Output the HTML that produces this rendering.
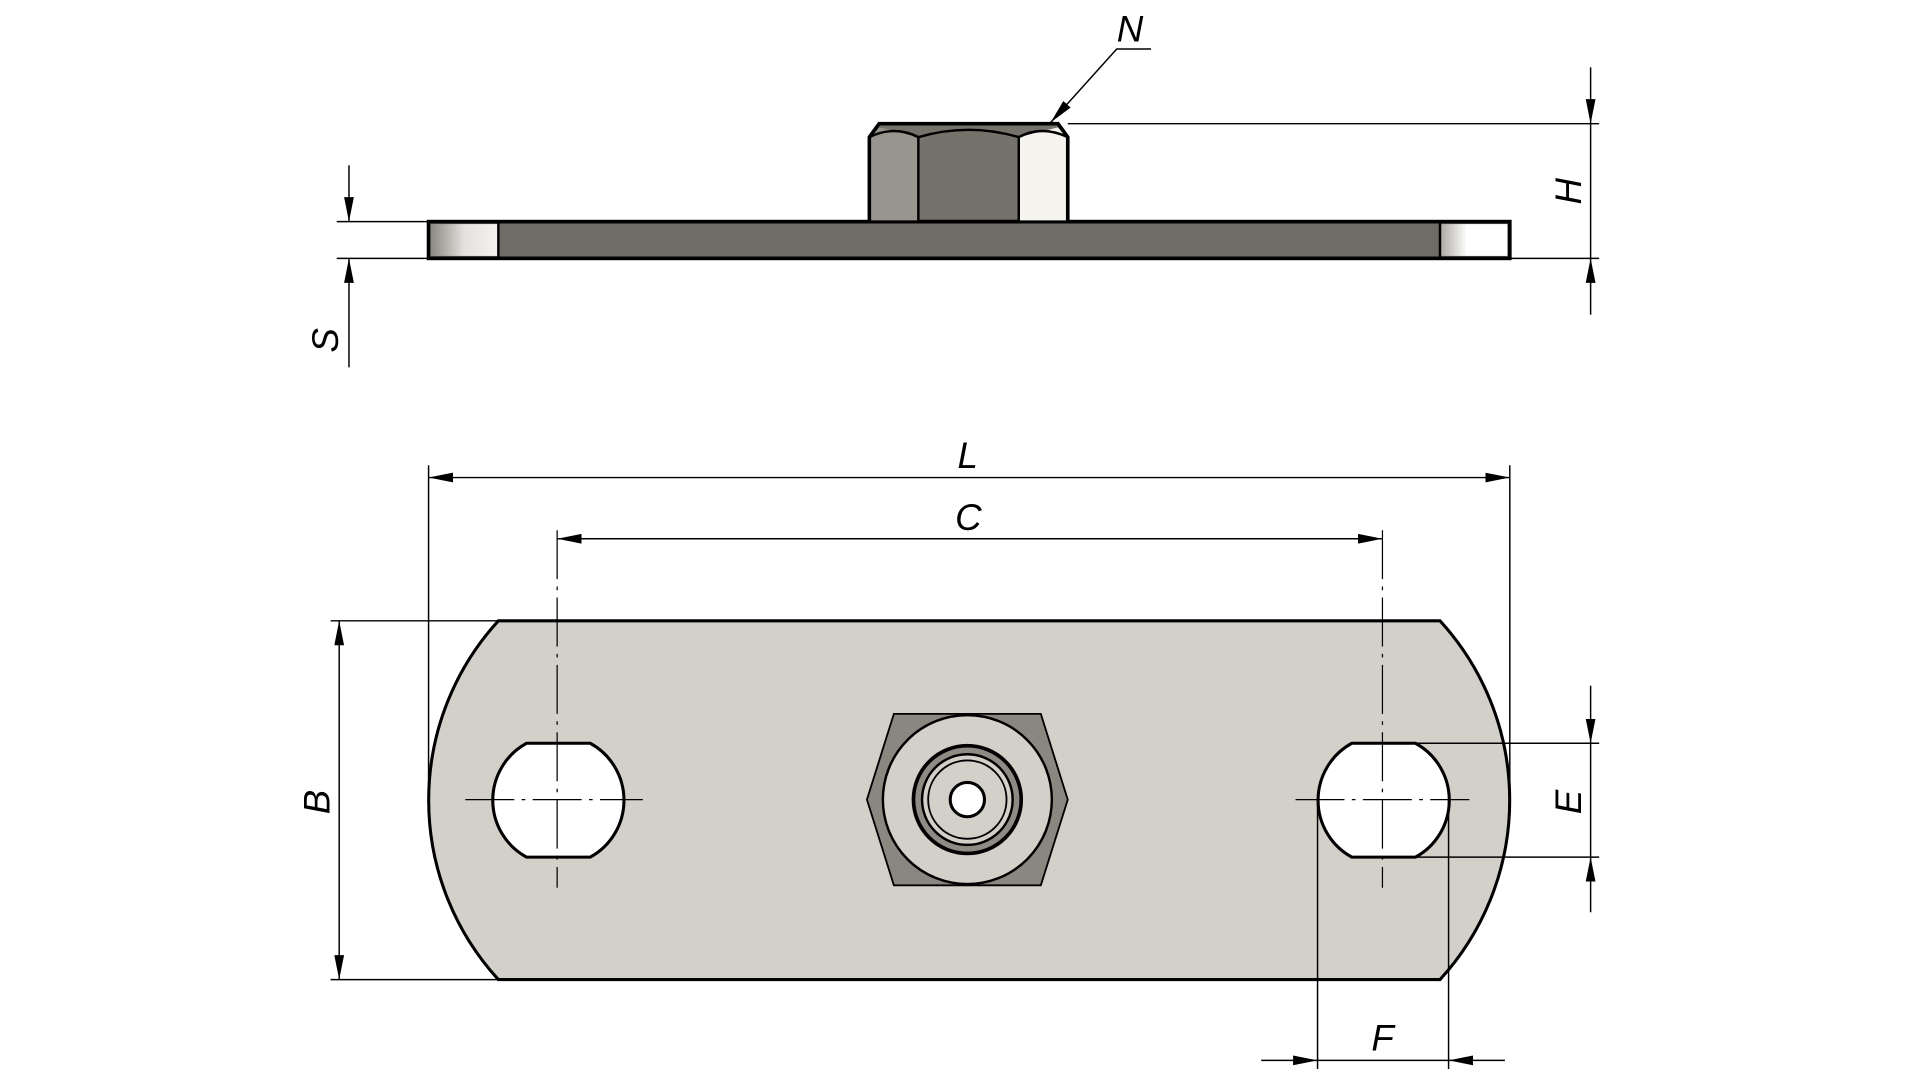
<!DOCTYPE html>
<html><head><meta charset="utf-8"><style>html,body{margin:0;padding:0;background:#fff;}svg{display:block}</style></head>
<body>
<svg width="1920" height="1080" viewBox="0 0 1568 882" preserveAspectRatio="none" xmlns="http://www.w3.org/2000/svg">
<defs>
<marker id="a" viewBox="0 0 20 8" refX="20" refY="4" markerWidth="20" markerHeight="8" markerUnits="userSpaceOnUse" orient="auto-start-reverse"><path d="M0,0 L20,4 L0,8 z" fill="#000"/></marker>
<linearGradient id="gl" x1="0" x2="1"><stop offset="0" stop-color="#8a8680"/><stop offset="0.5" stop-color="#e4e2de"/><stop offset="1" stop-color="#f4f2ee"/></linearGradient>
<linearGradient id="gr" x1="0" x2="1"><stop offset="0" stop-color="#aaa6a0"/><stop offset="0.4" stop-color="#fff"/><stop offset="1" stop-color="#fff"/></linearGradient>
</defs>
<g font-family="Liberation Sans, sans-serif" font-style="italic" font-size="30" fill="#000">
<!-- side view -->
<rect x="350" y="181" width="883" height="30" fill="#6f6b65" stroke="#000" stroke-width="3"/>
<rect x="351.5" y="183" width="55" height="26" fill="url(#gl)"/>
<rect x="1176" y="183" width="55" height="26" fill="url(#gr)"/>
<line x1="407" y1="181" x2="407" y2="211" stroke="#000" stroke-width="2"/>
<line x1="1176" y1="181" x2="1176" y2="211" stroke="#000" stroke-width="2"/>
<path d="M710,181 V112 L718,101 H864 L872,112 V181 Z" fill="#75716b" stroke="#000" stroke-width="3"/>
<path d="M711.5,112 L718,104 L750,112 V180 H711.5 Z" fill="#98948e"/>
<path d="M832,112 L864,104 L870.5,112 V180 H832 Z" fill="#f6f4ee"/>
<path d="M710,112 Q730,102 750,112 Q791,100 832,112 Q851,102 872,112" fill="none" stroke="#000" stroke-width="2"/>
<line x1="750" y1="112" x2="750" y2="181" stroke="#000" stroke-width="2"/>
<line x1="832" y1="112" x2="832" y2="181" stroke="#000" stroke-width="2"/>
<!-- N leader -->
<polyline points="940,40 912,40 858,100" fill="none" stroke="#000" stroke-width="1.2" marker-end="url(#a)"/>
<text x="912" y="34">N</text>
<!-- H -->
<line x1="872" y1="101" x2="1306" y2="101" stroke="#000" stroke-width="1.2"/>
<line x1="1233" y1="211" x2="1306" y2="211" stroke="#000" stroke-width="1.2"/>
<line x1="1299" y1="55" x2="1299" y2="101" stroke="#000" stroke-width="1.2" marker-end="url(#a)"/>
<line x1="1299" y1="257" x2="1299" y2="211" stroke="#000" stroke-width="1.2" marker-end="url(#a)"/>
<line x1="1299" y1="101" x2="1299" y2="211" stroke="#000" stroke-width="1.2"/>
<text transform="translate(1291,167) rotate(-90)">H</text>
<!-- S -->
<line x1="275" y1="181" x2="350" y2="181" stroke="#000" stroke-width="1.2"/>
<line x1="275" y1="211" x2="350" y2="211" stroke="#000" stroke-width="1.2"/>
<line x1="285" y1="135" x2="285" y2="181" stroke="#000" stroke-width="1.2" marker-end="url(#a)"/>
<line x1="285" y1="300" x2="285" y2="211" stroke="#000" stroke-width="1.2" marker-end="url(#a)"/>
<text transform="translate(276,288) rotate(-90)">S</text>
<!-- top view plate -->
<path d="M407,507 H1176 A217,217 0 0 1 1176,800 H407 A217,217 0 0 1 407,507 Z" fill="#d3cfc9" stroke="#000" stroke-width="2.5"/>
<path d="M430,607 H482 A53,53 0 0 1 482,700 H430 A53,53 0 0 1 430,607 Z" fill="#fff" stroke="#000" stroke-width="2.5"/>
<path d="M1104,607 H1156 A53,53 0 0 1 1156,700 H1104 A53,53 0 0 1 1104,607 Z" fill="#fff" stroke="#000" stroke-width="2.5"/>
<!-- nut top -->
<path d="M730,583 H850 L872,653 L850,723 H730 L708,653 Z" fill="#8a8680" stroke="#000" stroke-width="1.5"/>
<circle cx="790" cy="653" r="69" fill="#d3cfc9" stroke="#000" stroke-width="2"/>
<circle cx="790" cy="653" r="44" fill="#8e8a84" stroke="#000" stroke-width="3"/>
<circle cx="790" cy="653" r="37" fill="#d3cfc9" stroke="#000" stroke-width="2"/>
<circle cx="790" cy="653" r="32" fill="none" stroke="#000" stroke-width="1.5"/>
<circle cx="790" cy="653" r="14" fill="#fff" stroke="#000" stroke-width="2.5"/>
<!-- center lines -->
<g stroke="#000" stroke-width="1" stroke-dasharray="40,6,3,6" fill="none">
<line x1="455" y1="433" x2="455" y2="725"/>
<line x1="1129" y1="433" x2="1129" y2="725"/>
<line x1="380" y1="653" x2="525" y2="653"/>
<line x1="1058" y1="653" x2="1200" y2="653"/>
</g>
<!-- L -->
<line x1="350" y1="380" x2="350" y2="640" stroke="#000" stroke-width="1.2"/>
<line x1="1233" y1="380" x2="1233" y2="640" stroke="#000" stroke-width="1.2"/>
<line x1="350" y1="390" x2="1233" y2="390" stroke="#000" stroke-width="1.2" marker-start="url(#a)" marker-end="url(#a)"/>
<text x="782" y="382">L</text>
<!-- C -->
<line x1="455" y1="440" x2="1129" y2="440" stroke="#000" stroke-width="1.2" marker-start="url(#a)" marker-end="url(#a)"/>
<text x="780" y="433">C</text>
<!-- B -->
<line x1="270" y1="507" x2="407" y2="507" stroke="#000" stroke-width="1.2"/>
<line x1="270" y1="800" x2="407" y2="800" stroke="#000" stroke-width="1.2"/>
<line x1="277" y1="507" x2="277" y2="800" stroke="#000" stroke-width="1.2" marker-start="url(#a)" marker-end="url(#a)"/>
<text transform="translate(269,665) rotate(-90)">B</text>
<!-- E -->
<line x1="1156" y1="607" x2="1306" y2="607" stroke="#000" stroke-width="1.2"/>
<line x1="1156" y1="700" x2="1306" y2="700" stroke="#000" stroke-width="1.2"/>
<line x1="1299" y1="560" x2="1299" y2="607" stroke="#000" stroke-width="1.2" marker-end="url(#a)"/>
<line x1="1299" y1="745" x2="1299" y2="700" stroke="#000" stroke-width="1.2" marker-end="url(#a)"/>
<line x1="1299" y1="607" x2="1299" y2="700" stroke="#000" stroke-width="1.2"/>
<text transform="translate(1291,665) rotate(-90)">E</text>
<!-- F -->
<line x1="1076" y1="653" x2="1076" y2="873" stroke="#000" stroke-width="1.2"/>
<line x1="1183" y1="653" x2="1183" y2="873" stroke="#000" stroke-width="1.2"/>
<line x1="1030" y1="866" x2="1076" y2="866" stroke="#000" stroke-width="1.2" marker-end="url(#a)"/>
<line x1="1229" y1="866" x2="1183" y2="866" stroke="#000" stroke-width="1.2" marker-end="url(#a)"/>
<line x1="1076" y1="866" x2="1183" y2="866" stroke="#000" stroke-width="1.2"/>
<text x="1120" y="858">F</text>
</g>
</svg>
</body></html>
